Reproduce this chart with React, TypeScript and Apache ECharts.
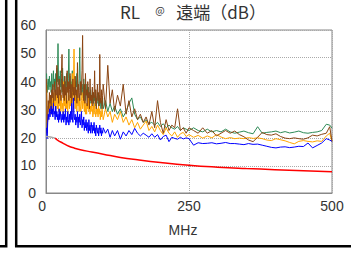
import React, { useEffect, useRef } from "react";
import * as echarts from "echarts";

const freqs = [
  1, 2, 3, 4, 5, 6, 7, 8, 9, 10, 11, 12, 13, 14, 15, 16, 17, 18, 19, 20,
  21, 22, 23, 24, 25, 26, 27, 28, 29, 30, 31, 32, 33, 34, 35, 36, 37, 38, 39, 40,
  41, 42, 43, 44, 45, 46, 47, 48, 49, 50, 51, 52, 53, 54, 55, 56, 57, 58, 59, 60,
  61, 62, 63, 64, 65, 66, 67, 68, 69, 70, 71, 72, 73, 74, 75, 76, 77, 78, 79, 80,
  81, 82, 83, 84, 85, 86, 87, 88, 89, 90, 91, 92, 93, 94, 95, 96, 97, 98, 99,
  100, 104, 108, 112, 116, 120, 125, 130, 135, 140, 145, 150, 155, 160, 165, 170, 175, 180, 185, 190, 195, 200,
  205, 210, 215, 220, 225, 230, 235, 240, 245,
  250, 258, 266, 274, 282, 290, 298, 306, 314, 322, 330, 338, 346, 354, 362, 370, 378, 386, 394, 402, 410, 418,
  426, 434, 442, 450, 458, 466, 474, 482, 490, 496, 500,
];

const brown = [
  42, 22, 28, 34, 31, 37, 33, 36, 30, 38,
  35, 40, 33, 37, 41, 34, 38, 36, 47, 35,
  39, 33, 42, 36, 38, 34, 44, 51, 37, 35,
  40, 34, 43, 36, 39, 33, 45, 37, 41, 34,
  38, 44, 35, 40, 33, 37, 42, 36, 39, 34,
  43, 36, 38, 33, 48, 35, 40, 37, 34, 41,
  36, 39, 45, 58, 38, 34, 40, 33, 44, 36,
  38, 32, 41, 35, 37, 31, 42, 34, 36, 33,
  39, 32, 37, 35, 45, 33, 38, 31, 36, 40,
  34, 37, 32, 51, 35, 33, 38, 31, 36,
  40, 31, 47, 33, 38, 30, 36, 32, 40, 29, 34, 28, 31, 27, 29, 26, 28, 25, 30, 24, 34, 26,
  22, 27, 23, 25, 24, 31, 23, 24, 22,
  24, 23, 22, 24, 22, 23, 21, 22, 23, 22, 22.8, 21.5, 20.7, 19.5, 18.9, 20.5, 22.3, 21.5, 21.3, 21.8, 20.8, 20.2,
  20, 20.3, 20, 19.8, 20.3, 21.3, 21, 21.6, 22, 24.4, 19,
];

const green = [
  44, 37, 40, 42, 38, 43, 39, 41, 37, 44,
  40, 38, 45, 39, 42, 37, 44, 40, 46, 41,
  55, 40, 43, 38, 45, 39, 42, 37, 46, 40,
  38, 43, 39, 41, 36, 44, 40, 38, 42, 53,
  39, 43, 37, 41, 38, 45, 36, 40, 38, 43,
  37, 41, 39, 44, 36, 40, 38, 42, 53.5, 38,
  41, 36, 40, 38, 35, 42, 37, 39, 34, 40,
  36, 38, 35, 39, 34, 37, 33, 38, 35, 36,
  34, 37, 33, 36, 34, 38, 32, 35, 33, 37,
  34, 32, 36, 33, 35, 31, 34, 32, 35,
  31, 34, 30, 33, 30, 32, 29, 31, 28, 30, 33, 35, 29, 27, 28, 26, 27, 25.5, 26, 25, 26, 24.5,
  25.5, 24, 25, 24, 23.5, 24.5, 23, 24, 23.5,
  23, 24, 23, 22.5, 23.5, 22.5, 23, 22.5, 23.5, 22.5, 22, 22.4, 22.8, 22.2, 21.8, 24.4, 22, 22.3, 22.5, 22.8, 22.2, 22.6,
  22.1, 22.4, 22.8, 22.2, 22, 22.3, 22.5, 23, 25.3, 25, 23.9,
];

const orange = [
  40, 26, 29, 32, 30, 34, 31, 36, 29, 33,
  31, 35, 30, 37, 32, 34, 29, 36, 33, 31,
  35, 30, 38, 32, 34, 30, 36, 31, 33, 29,
  41, 32, 35, 30, 36, 31, 34, 29, 39, 33,
  31, 36, 32, 37, 30, 44, 34, 38, 53, 35,
  31, 36, 33, 30, 38, 32, 35, 30, 36, 32,
  30, 34, 37, 31, 33, 35, 30, 34, 29, 33,
  29, 33, 31, 36, 30, 34, 29, 32, 30, 34,
  31, 28, 32, 29, 33, 30, 28, 32, 29, 31,
  28, 32, 29, 31, 27, 30, 28, 31, 29,
  27, 31, 28, 30, 26, 29, 27, 30, 26, 28, 25, 27, 24, 26, 23.5, 25, 26.5, 23, 24.5, 22.5, 25, 23,
  21.5, 24, 22, 21, 22.5, 20.5, 21.8, 22.3, 20.8,
  21.5, 20.5, 21.2, 20.2, 21, 20.3, 21.5, 20.6, 20, 20.4, 20, 20.2, 20, 20.4, 20.1, 20.3, 20, 19.5, 19.3, 20, 19.6, 19.2,
  18.6, 18.1, 19, 19.3, 19, 18.8, 19.2, 19, 21, 22, 19,
];

const blue = [
  24, 20, 26, 29, 27, 31, 28, 30, 32, 29,
  31, 28, 33, 29, 30, 27, 32, 28, 30, 27,
  29, 26, 31, 27, 30, 28, 26, 29, 27, 30,
  26, 29, 27, 31, 25, 28, 26, 30, 27, 25,
  29, 26, 30, 27, 33, 28, 26, 35, 28, 27,
  29, 25, 28, 26, 30, 24, 28, 26, 29, 25,
  27, 30, 24, 27, 25, 28, 23, 26, 24, 27,
  23, 26, 24, 22, 27, 23, 25, 22, 26, 24,
  22, 25, 23, 26, 22, 24, 21, 25, 23, 22,
  24, 21, 23, 25, 22, 24, 21, 23, 22,
  24, 22, 23.5, 20.5, 23, 21, 23, 19.8, 22.5, 21, 23, 21.5, 23.8, 22, 21, 22, 21.3, 20.5, 21.8, 20.5, 21.5, 19.5,
  20.8, 21.3, 18.9, 20.5, 20.1, 19.8, 20.5, 19.9, 20.3,
  20, 17.6, 18.5, 18.2, 18.3, 18.5, 18.1, 18.3, 18.6, 18.2, 18.2, 18, 17.8, 18.2, 17.9, 18, 17.6, 17.2, 16.8, 16.6, 16.9, 17,
  16.7, 16.9, 17.2, 17.1, 18.4, 16.6, 17.5, 18.4, 20, 19.5, 19,
];

const limitFreqsLow = [0, 8, 16];
const limitLow = [20.8, 20.6, 20.2];
const limitFreqs = [16, 20, 30, 40, 50, 60, 80, 100, 130, 160, 200, 250, 300, 350, 400, 450, 500];
const limit = [20.2, 19.5, 18.3, 17.2, 16.5, 15.9, 15.1, 14.3, 13.1, 12.2, 11.2, 10.2, 9.5, 9.0, 8.6, 8.2, 7.8];

const yTicks = [0, 10, 20, 30, 40, 50, 60];
const yLabelLift = [0, 1, 1.4, 3, 4.6, 9, 9.4];

const pair = (xs: number[], ys: number[]) => xs.map((x, i) => [x, ys[i]]);

export default function App() {
  const ref = useRef<HTMLDivElement>(null);
  useEffect(() => {
    if (!ref.current) return;
    const chart = echarts.init(ref.current, null, { renderer: "svg" });
    const rich: Record<string, any> = {};
    yTicks.forEach((t, i) => {
      rich["t" + t] = {
        fontFamily: "Liberation Sans",
        fontSize: 14,
        color: "#333",
        padding: [0, 0, yLabelLift[i], 0],
      };
    });
    const line = (name: string, data: number[][], color: string, z = 2, width = 1) => ({
      name,
      type: "line",
      data,
      showSymbol: false,
      symbol: "none",
      lineStyle: { color, width },
      itemStyle: { color },
      z,
    });
    const tFont = "Noto Sans CJK JP";
    chart.setOption({
      animation: false,
      backgroundColor: "#fff",
      title: {
        text: "{n|RL    }{at|@}{n|   遠端（dB）}",
        left: 188,
        top: -4,
        textAlign: "center",
        textStyle: {
          fontFamily: tFont,
          fontSize: 17,
          fontWeight: "normal",
          color: "#333",
          rich: {
            n: { fontFamily: tFont, fontSize: 17, color: "#333", lineHeight: 20 },
            at: { fontFamily: tFont, fontSize: 10, color: "#333", lineHeight: 20, padding: [0, 0, 4, 0] },
          },
        },
      },
      grid: {
        left: 46,
        top: 30,
        right: 19,
        bottom: 68,
        show: true,
        borderColor: "#888",
        borderWidth: 1,
        backgroundColor: "transparent",
      },
      xAxis: {
        type: "value",
        min: 0,
        max: 500,
        interval: 250,
        name: "MHz",
        nameLocation: "middle",
        nameGap: 30,
        nameTextStyle: {
          fontFamily: "Liberation Sans",
          fontSize: 14,
          color: "#333",
          padding: [0, 12, 0, 0],
        },
        axisLine: { show: true, lineStyle: { color: "#888" } },
        axisTick: { show: false },
        axisLabel: {
          margin: 6,
          fontFamily: "Liberation Sans",
          fontSize: 14,
          color: "#333",
          alignMinLabel: "right",
        },
        splitLine: { show: true, lineStyle: { color: "#aaa", type: "dotted" } },
      },
      yAxis: {
        type: "value",
        min: 0,
        max: 60,
        interval: 10,
        axisLine: { show: true, lineStyle: { color: "#888" } },
        axisTick: { show: false },
        axisLabel: {
          margin: 10,
          formatter: (v: number) => `{t${v}|${v}}`,
          rich,
        },
        splitLine: { show: true, lineStyle: { color: "#aaa", type: "dotted" } },
      },
      series: [
        line("green", pair(freqs, green), "#2E8B57", 2),
        line("orange", pair(freqs, orange), "#FFA500", 3),
        line("brown", pair(freqs, brown), "#8B4513", 4),
        line("blue", pair(freqs, blue), "#0000FF", 5),
        line("limitLow", pair(limitFreqsLow, limitLow), "#AAAAAA", 6, 1.5),
        { ...line("limit", pair(limitFreqs, limit), "#FF0000", 6, 1.5), smooth: true },
      ],
      graphic: [
        {
          type: "polyline",
          shape: { points: [[6.2, -5], [6.2, 246.3], [-5, 246.3]] },
          style: { stroke: "#000", lineWidth: 2.5, fill: "none" },
          z: 100,
        },
        {
          type: "polyline",
          shape: { points: [[16.2, -5], [16.2, 246.2], [360, 246.2]] },
          style: { stroke: "#000", lineWidth: 2.5, fill: "none" },
          z: 100,
        },
      ],
    });
    return () => chart.dispose();
  }, []);
  return (
    <div style={{ position: "fixed", left: 0, top: 0, width: 351, height: 261, background: "#fff" }}>
      <div ref={ref} style={{ width: 351, height: 261 }} />
    </div>
  );
}
